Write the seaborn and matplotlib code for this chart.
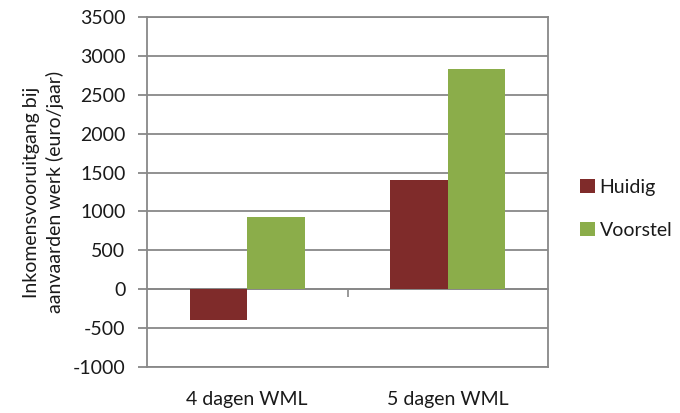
import matplotlib
matplotlib.use("Agg")
import matplotlib.pyplot as plt
import seaborn as sns
import pandas as pd

categories = ["4 dagen WML", "5 dagen WML"]
series_names = ["Huidig", "Voorstel"]
huidig = [-390, 1400]
voorstel = [925, 2830]
yticks = [-1000, -500, 0, 500, 1000, 1500, 2000, 2500, 3000, 3500]

df = pd.DataFrame({
    "cat": categories * 2,
    "serie": [series_names[0]] * len(categories) + [series_names[1]] * len(categories),
    "val": huidig + voorstel,
})

sns.set_theme(style="white")
plt.rcParams["font.family"] = ["Lato", "DejaVu Sans"]

FS = 14
fig = plt.figure(figsize=(6.8, 4.13), dpi=100)
ax = fig.add_axes([147/680, 1-367/413, (548-147)/680, (367-17)/413])

palette = {"Huidig": "#7F2B2A", "Voorstel": "#8BAD4A"}
sns.barplot(data=df, x="cat", y="val", hue="serie", order=categories,
            hue_order=series_names, palette=palette, width=0.575, gap=0,
            saturation=1, ax=ax, edgecolor="none", linewidth=0, zorder=3)

ax.set_xlim(-0.5, 1.5)
ax.set_ylim(yticks[0], yticks[-1])
ax.set_yticks(yticks)
ax.set_yticklabels([str(t) for t in yticks], fontsize=FS, color="#1a1a1a")
ax.yaxis.grid(True, color="#888888", linewidth=1.3, zorder=0)
ax.set_axisbelow(True)
ax.tick_params(axis="y", length=6.5, width=1.3, color="#888888", pad=9, direction="out", left=True)
ax.tick_params(axis="x", length=0, pad=17, labelsize=FS, labelcolor="#1a1a1a")
for s in ax.spines.values():
    s.set_color("#888888")
    s.set_linewidth(1.3)

ax.set_xlabel("")
ax.set_ylabel("Inkomensvooruitgang bij\naanvaarden werk (euro/jaar)", fontsize=FS,
              color="#1a1a1a", labelpad=6, linespacing=1.45)

# axis line at y=0 with tick between categories
y0, y1 = ax.get_ylim()
sec = ax.secondary_xaxis((0 - y0) / (y1 - y0))
sec.set_xticks([0.5])
sec.set_xticklabels([""])
sec.tick_params(length=6, width=1.2, color="#888888", direction="out")
sec.spines["bottom"].set_color("#888888")
sec.spines["bottom"].set_linewidth(1.3)

leg = ax.legend(loc="center left", bbox_to_anchor=(1.08, 0.452), frameon=False,
                fontsize=FS, handlelength=0.75, handleheight=0.75, handletextpad=0.25,
                labelspacing=1.35, borderpad=0, borderaxespad=0)
for t in leg.get_texts():
    t.set_color("#1a1a1a")

fig.savefig("out.png", dpi=100)
